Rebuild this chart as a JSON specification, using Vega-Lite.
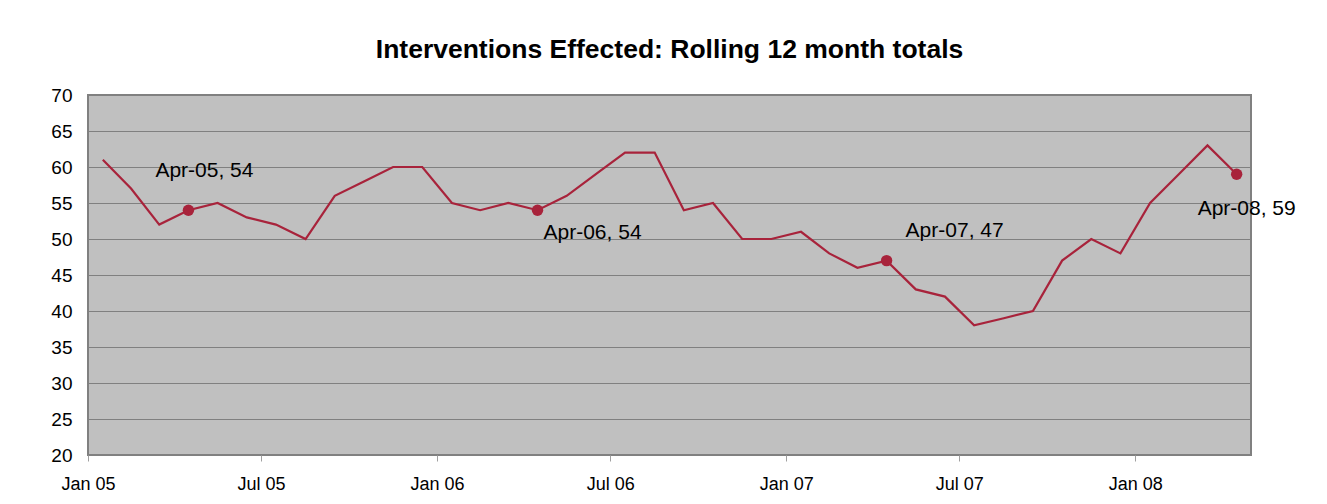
{
  "$schema": "https://vega.github.io/schema/vega-lite/v6.json",
  "width": 1163,
  "height": 360,
  "autosize": "none",
  "padding": {"left": 88, "top": 95, "right": 76, "bottom": 49},
  "background": "white",
  "title": {
    "text": "Interventions Effected: Rolling 12 month totals",
    "font": "Liberation Sans",
    "fontSize": 26.5,
    "fontWeight": "bold",
    "color": "black",
    "anchor": "middle",
    "offset": 23
  },
  "config": {
    "font": "Liberation Sans",
    "view": {"fill": "#C0C0C0", "stroke": "#808080", "strokeWidth": 2}
  },
  "data": {
    "values": [
      {"date": "2005-01-01T00:00:00", "value": 61},
      {"date": "2005-02-01T00:00:00", "value": 57},
      {"date": "2005-03-01T00:00:00", "value": 52},
      {"date": "2005-04-01T00:00:00", "value": 54},
      {"date": "2005-05-01T00:00:00", "value": 55},
      {"date": "2005-06-01T00:00:00", "value": 53},
      {"date": "2005-07-01T00:00:00", "value": 52},
      {"date": "2005-08-01T00:00:00", "value": 50},
      {"date": "2005-09-01T00:00:00", "value": 56},
      {"date": "2005-10-01T00:00:00", "value": 58},
      {"date": "2005-11-01T00:00:00", "value": 60},
      {"date": "2005-12-01T00:00:00", "value": 60},
      {"date": "2006-01-01T00:00:00", "value": 55},
      {"date": "2006-02-01T00:00:00", "value": 54},
      {"date": "2006-03-01T00:00:00", "value": 55},
      {"date": "2006-04-01T00:00:00", "value": 54},
      {"date": "2006-05-01T00:00:00", "value": 56},
      {"date": "2006-06-01T00:00:00", "value": 59},
      {"date": "2006-07-01T00:00:00", "value": 62},
      {"date": "2006-08-01T00:00:00", "value": 62},
      {"date": "2006-09-01T00:00:00", "value": 54},
      {"date": "2006-10-01T00:00:00", "value": 55},
      {"date": "2006-11-01T00:00:00", "value": 50},
      {"date": "2006-12-01T00:00:00", "value": 50},
      {"date": "2007-01-01T00:00:00", "value": 51},
      {"date": "2007-02-01T00:00:00", "value": 48},
      {"date": "2007-03-01T00:00:00", "value": 46},
      {"date": "2007-04-01T00:00:00", "value": 47},
      {"date": "2007-05-01T00:00:00", "value": 43},
      {"date": "2007-06-01T00:00:00", "value": 42},
      {"date": "2007-07-01T00:00:00", "value": 38},
      {"date": "2007-08-01T00:00:00", "value": 39},
      {"date": "2007-09-01T00:00:00", "value": 40},
      {"date": "2007-10-01T00:00:00", "value": 47},
      {"date": "2007-11-01T00:00:00", "value": 50},
      {"date": "2007-12-01T00:00:00", "value": 48},
      {"date": "2008-01-01T00:00:00", "value": 55},
      {"date": "2008-02-01T00:00:00", "value": 59},
      {"date": "2008-03-01T00:00:00", "value": 63},
      {"date": "2008-04-01T00:00:00", "value": 59}
    ]
  },
  "transform": [
    {"calculate": "timeFormat(datum.date, '%b-%y') + ', ' + datum.value", "as": "label"},
    {"calculate": "year(datum.date)", "as": "yr"},
    {"calculate": "month(datum.date)", "as": "mo"}
  ],
  "encoding": {
    "x": {
      "field": "date",
      "type": "temporal",
      "timeUnit": "yearmonth",
      "bandPosition": 0.5,
      "scale": {
        "domain": [
          {"year": 2005, "month": 1, "date": 1},
          {"year": 2008, "month": 5, "date": 1}
        ]
      },
      "axis": {
        "title": null,
        "format": "%b %y",
        "formatType": "time",
        "values": [
          {"year": 2005, "month": 1, "date": 1},
          {"year": 2005, "month": 7, "date": 1},
          {"year": 2006, "month": 1, "date": 1},
          {"year": 2006, "month": 7, "date": 1},
          {"year": 2007, "month": 1, "date": 1},
          {"year": 2007, "month": 7, "date": 1},
          {"year": 2008, "month": 1, "date": 1}
        ],
        "grid": false,
        "domain": false,
        "ticks": true,
        "tickColor": "#A0A0A0",
        "tickSize": 6,
        "tickWidth": 1,
        "labelFontSize": 18,
        "labelColor": "black",
        "labelPadding": 14,
        "labelFlush": false,
        "labelOverlap": false
      }
    },
    "y": {
      "field": "value",
      "type": "quantitative",
      "scale": {"domain": [20, 70], "nice": false, "zero": false},
      "axis": {
        "title": null,
        "values": [20, 25, 30, 35, 40, 45, 50, 55, 60, 65, 70],
        "grid": true,
        "gridColor": "#808080",
        "gridWidth": 1,
        "gridOpacity": 1,
        "domain": false,
        "ticks": false,
        "labelFontSize": 19,
        "labelColor": "black",
        "labelPadding": 16
      }
    }
  },
  "layer": [
    {
      "mark": {"type": "line", "color": "#A8233B", "strokeWidth": 2.2}
    },
    {
      "transform": [{"filter": "datum.mo == 3"}],
      "mark": {"type": "point", "filled": true, "color": "#A8233B", "size": 130, "opacity": 1}
    },
    {
      "transform": [{"filter": "datum.mo == 3 && datum.yr == 2005"}],
      "mark": {"type": "text", "align": "left", "baseline": "middle", "dx": -33, "dy": -39, "fontSize": 21, "color": "black"},
      "encoding": {"text": {"field": "label"}}
    },
    {
      "transform": [{"filter": "datum.mo == 3 && datum.yr == 2006"}],
      "mark": {"type": "text", "align": "left", "baseline": "middle", "dx": 6, "dy": 23, "fontSize": 21, "color": "black"},
      "encoding": {"text": {"field": "label"}}
    },
    {
      "transform": [{"filter": "datum.mo == 3 && datum.yr == 2007"}],
      "mark": {"type": "text", "align": "left", "baseline": "middle", "dx": 19, "dy": -30, "fontSize": 21, "color": "black"},
      "encoding": {"text": {"field": "label"}}
    },
    {
      "transform": [{"filter": "datum.mo == 3 && datum.yr == 2008"}],
      "mark": {"type": "text", "align": "left", "baseline": "middle", "dx": -39, "dy": 35, "fontSize": 21, "color": "black"},
      "encoding": {"text": {"field": "label"}}
    }
  ]
}
